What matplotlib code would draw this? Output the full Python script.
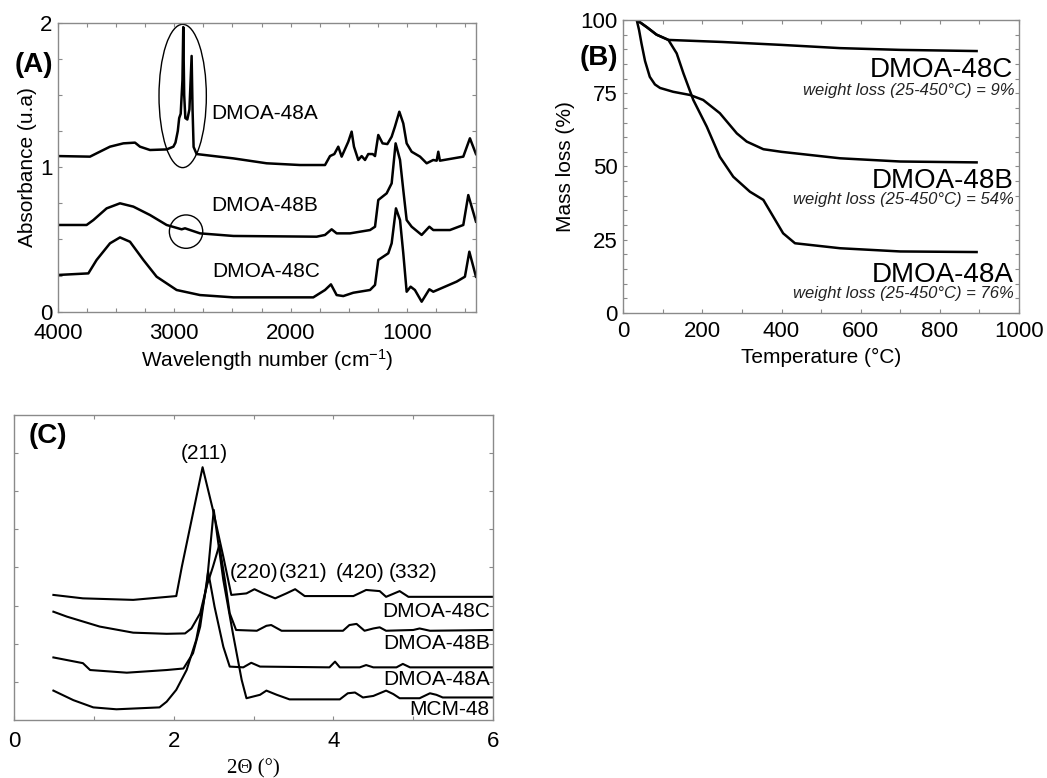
import matplotlib.pyplot as plt
from matplotlib.patches import Ellipse

plt.rcParams['font.family'] = ['Liberation Sans', 'DejaVu Sans']
plt.rcParams['mathtext.fontset'] = 'custom'
plt.rcParams['mathtext.rm'] = 'Liberation Sans'
plt.rcParams['mathtext.default'] = 'regular'

# (A) FTIR spectra
ir_x_48A = [4000, 3725, 3668, 3553, 3438, 3338, 3295, 3209, 3066, 3008, 2990, 2970, 2958, 2945,
            2930, 2923, 2915, 2905, 2888, 2870, 2851, 2843, 2834, 2808, 2492, 2206, 1919, 1704,
            1661, 1624, 1590, 1561, 1504, 1475, 1455, 1418, 1389, 1360, 1332, 1294, 1274, 1246,
            1209, 1168, 1131, 1103, 1065, 1031, 1002, 959, 887, 830, 773, 744, 730, 716, 515,
            458, 406]
ir_y_48A = [1.077, 1.073, 1.096, 1.142, 1.165, 1.170, 1.142, 1.119, 1.123, 1.142, 1.17, 1.25,
            1.34, 1.37, 1.60, 1.97, 1.50, 1.34, 1.33, 1.40, 1.77, 1.40, 1.14, 1.091, 1.061, 1.027,
            1.015, 1.015, 1.077, 1.091, 1.142, 1.073, 1.176, 1.246, 1.142, 1.050, 1.077, 1.050,
            1.091, 1.091, 1.077, 1.223, 1.165, 1.160, 1.211, 1.280, 1.384, 1.303, 1.165, 1.107,
            1.073, 1.027, 1.050, 1.045, 1.107, 1.045, 1.073, 1.200, 1.091]

ir_x_48B = [4000, 3754, 3696, 3582, 3467, 3352, 3209, 3066, 2937, 2908, 2779, 2492, 1776, 1704,
            1647, 1604, 1489, 1317, 1274, 1246, 1174, 1131, 1097, 1059, 1031, 1002, 959, 873,
            807, 773, 630, 515, 472, 406]
ir_y_48B = [0.600, 0.600, 0.634, 0.715, 0.750, 0.727, 0.669, 0.600, 0.570, 0.577, 0.542, 0.524,
            0.519, 0.531, 0.570, 0.542, 0.542, 0.565, 0.588, 0.773, 0.819, 0.888, 1.165, 1.050,
            0.842, 0.634, 0.588, 0.531, 0.588, 0.565, 0.565, 0.600, 0.807, 0.623]

ir_x_48C = [4000, 3739, 3668, 3553, 3467, 3381, 3266, 3152, 2980, 2779, 2492, 1805, 1704, 1653,
            1604, 1547, 1461, 1317, 1274, 1246, 1160, 1131, 1094, 1059, 1031, 1002, 968, 931,
            873, 807, 773, 572, 501, 463, 406]
ir_y_48C = [0.254, 0.265, 0.358, 0.473, 0.514, 0.484, 0.358, 0.242, 0.150, 0.115, 0.099, 0.099,
            0.150, 0.189, 0.115, 0.108, 0.131, 0.150, 0.185, 0.358, 0.404, 0.473, 0.715, 0.634,
            0.404, 0.138, 0.173, 0.150, 0.069, 0.155, 0.138, 0.208, 0.242, 0.415, 0.242]

# (B) TGA curves
tga_t_48C = [34, 60, 84, 114, 250, 400, 548, 700, 893]
tga_m_48C = [100, 97.5, 95.0, 93.2, 92.5, 91.5, 90.4, 89.8, 89.4]
tga_t_48B = [34, 40, 46, 55, 67, 80, 93, 126, 169, 202, 244, 287, 312, 354, 400, 548, 700, 893]
tga_m_48B = [100, 96.5, 92, 86, 80.6, 78, 76.8, 75.5, 74.4, 72.7, 68.2, 61.3, 58.5, 55.9, 55.0,
             52.8, 51.7, 51.4]
tga_t_48A = [34, 60, 84, 114, 135, 152, 177, 211, 244, 278, 320, 354, 379, 404, 434, 548, 700, 893]
tga_m_48A = [100, 97.5, 95, 93.2, 88.6, 81.8, 72.7, 63.6, 53.3, 46.5, 41.4, 38.6, 32.9, 27.2,
             23.8, 22.1, 21.0, 20.8]
tga_names = ['DMOA-48C', 'DMOA-48B', 'DMOA-48A']
tga_loss = [9, 54, 76]

# (C) low-angle XRD
xrd_x_48C = [0.49, 0.86, 1.49, 2.03, 2.10, 2.36, 2.49, 2.62, 2.72, 2.91, 3.01, 3.12, 3.27, 3.41,
             3.52, 3.64, 4.25, 4.41, 4.58, 4.66, 4.83, 4.94, 6.00]
xrd_y_48C = [3.28, 3.19, 3.15, 3.25, 4.02, 6.63, 5.51, 4.28, 3.28, 3.32, 3.43, 3.32, 3.19, 3.32,
             3.43, 3.25, 3.25, 3.41, 3.38, 3.23, 3.38, 3.23, 3.23]
xrd_x_48B = [0.49, 0.66, 1.07, 1.49, 1.91, 2.14, 2.22, 2.33, 2.41, 2.49, 2.57, 2.64, 2.70, 2.78,
             3.04, 3.16, 3.22, 3.35, 4.12, 4.20, 4.29, 4.39, 4.50, 4.58, 4.66, 5.00, 5.08, 5.21, 6.00]
xrd_y_48B = [2.84, 2.71, 2.45, 2.29, 2.26, 2.27, 2.40, 2.80, 3.50, 4.02, 4.59, 3.67, 2.80, 2.36,
             2.34, 2.47, 2.49, 2.34, 2.34, 2.49, 2.52, 2.34, 2.40, 2.43, 2.34, 2.36, 2.40, 2.34, 2.36]
xrd_x_48A = [0.49, 0.86, 0.95, 1.41, 1.91, 2.12, 2.24, 2.33, 2.43, 2.51, 2.62, 2.70, 2.87, 2.97,
             3.08, 3.95, 4.02, 4.08, 4.33, 4.41, 4.50, 4.79, 4.87, 4.96, 6.00]
xrd_y_48A = [1.64, 1.49, 1.31, 1.24, 1.31, 1.35, 1.75, 2.45, 3.89, 2.97, 1.92, 1.40, 1.38, 1.50,
             1.40, 1.38, 1.53, 1.38, 1.38, 1.44, 1.38, 1.38, 1.47, 1.38, 1.38]
xrd_x_mcm = [0.49, 0.74, 0.99, 1.28, 1.82, 1.91, 2.03, 2.16, 2.28, 2.41, 2.50, 2.62, 2.74, 2.85,
             2.91, 3.08, 3.16, 3.29, 3.45, 4.08, 4.18, 4.27, 4.37, 4.50, 4.66, 4.75, 4.83, 5.08,
             5.21, 5.29, 5.37, 6.00]
xrd_y_mcm = [0.77, 0.52, 0.33, 0.28, 0.33, 0.48, 0.79, 1.31, 2.10, 3.50, 5.51, 3.67, 2.27, 1.05,
             0.57, 0.66, 0.77, 0.66, 0.54, 0.54, 0.70, 0.72, 0.59, 0.63, 0.77, 0.68, 0.57, 0.57,
             0.70, 0.66, 0.59, 0.59]
hkl = ['(211)', '(220)', '(321)', '(420)', '(332)']
hkl_x = [2.38, 3.01, 3.62, 4.33, 5.0]
hkl_y = [6.99, 3.86, 3.86, 3.86, 3.86]
xrd_names = ['DMOA-48C', 'DMOA-48B', 'DMOA-48A', 'MCM-48']
xrd_name_y = [2.84, 2.01, 1.05, 0.28]

fig = plt.figure(figsize=(10.47, 7.78), dpi=100)
fs = 15
grey = '#8a8a8a'


def style(ax, tsize=16, xpad=5):
    for s in ax.spines.values():
        s.set_color(grey)
        s.set_linewidth(1.0)
    ax.tick_params(which='both', direction='in', top=True, right=True, color=grey,
                   length=3, width=0.8, labelsize=tsize, pad=4)
    ax.tick_params(axis='x', pad=xpad)


# ---- (A)
axA = fig.add_axes([0.0554, 0.5994, 0.3992, 0.3714])
for xs, ys in [(ir_x_48A, ir_y_48A), (ir_x_48B, ir_y_48B), (ir_x_48C, ir_y_48C)]:
    axA.plot(xs, ys, color='black', lw=1.8)
axA.set_xlim(4000, 406)
axA.set_ylim(0, 2)
axA.set_xticks([4000, 3000, 2000, 1000])
axA.set_xticks([v for v in range(500, 4000, 250) if v % 1000], minor=True)
axA.set_yticks([0, 1, 2])
axA.set_yticks([0.25, 0.5, 0.75, 1.25, 1.5, 1.75], minor=True)
axA.set_xlabel('Wavelength number (cm$^{-1}$)', fontsize=fs, labelpad=2)
axA.set_ylabel('Absorbance (u.a)', fontsize=fs, labelpad=2)
style(axA, xpad=8.5)
axA.add_patch(Ellipse((2928, 1.493), 407, 0.992, fill=False, color='black', lw=1.0))
axA.add_patch(Ellipse((2899, 0.554), 287, 0.231, fill=False, color='black', lw=1.0))
axA.text(2679, 1.373, 'DMOA-48A', fontsize=fs, va='center', ha='left')
axA.text(2679, 0.738, 'DMOA-48B', fontsize=fs, va='center', ha='left')
axA.text(2675, 0.277, 'DMOA-48C', fontsize=fs, va='center', ha='left')
fig.text(0.0143, 0.916, '(A)', fontsize=20, fontweight='bold', va='center', ha='left')

# ---- (B)
axB = fig.add_axes([0.5953, 0.5977, 0.3779, 0.3766])
for ts, ms in [(tga_t_48C, tga_m_48C), (tga_t_48B, tga_m_48B), (tga_t_48A, tga_m_48A)]:
    axB.plot(ts, ms, color='black', lw=1.8)
axB.set_xlim(0, 1000)
axB.set_ylim(0, 100)
axB.set_xticks(range(0, 1001, 200))
axB.set_xticks(range(100, 1000, 200), minor=True)
axB.set_yticks([0, 25, 50, 75, 100])
axB.set_yticks([v for v in range(5, 100, 5) if v % 25], minor=True)
axB.set_xlabel('Temperature (°C)', fontsize=fs, labelpad=4)
axB.set_ylabel('Mass loss (%)', fontsize=fs, labelpad=4)
style(axB, xpad=6)
for name, loss, yn, yw in zip(tga_names, tga_loss, [83.0, 44.9, 13.1], [75.8, 38.6, 6.8]):
    axB.text(986, yn, name, fontsize=20, ha='right', va='center')
    axB.text(988, yw, 'weight loss (25-450°C) = %d%%' % loss, fontsize=12, style='italic',
             ha='right', va='center', color='#222222')
fig.text(0.554, 0.926, '(B)', fontsize=20, fontweight='bold', va='center', ha='left')

# ---- (C)
axC = fig.add_axes([0.01366, 0.0746, 0.4572, 0.392])
for xs, ys in [(xrd_x_48C, xrd_y_48C), (xrd_x_48B, xrd_y_48B), (xrd_x_48A, xrd_y_48A),
               (xrd_x_mcm, xrd_y_mcm)]:
    axC.plot(xs, ys, color='black', lw=1.5)
axC.set_xlim(0, 6)
axC.set_ylim(0, 8)
axC.set_xticks([0, 2, 4, 6])
axC.set_xticks([1, 3, 5], minor=True)
axC.set_yticks(range(1, 8))
axC.set_yticklabels([])
style(axC, tsize=16, xpad=8)
axC.set_xlabel('2Θ (°)', fontsize=fs, family=['Liberation Serif', 'DejaVu Serif'], labelpad=5)
for lab, hx, hy in zip(hkl, hkl_x, hkl_y):
    axC.text(hx, hy, lab, fontsize=fs, ha='center', va='center')
for name, yn in zip(xrd_names, xrd_name_y):
    axC.text(5.96, yn, name, fontsize=fs, ha='right', va='center')
axC.text(0.03, 0.93, '(C)', transform=axC.transAxes, fontsize=20, fontweight='bold',
         va='center', ha='left')

fig.savefig('out.png', dpi=100)
